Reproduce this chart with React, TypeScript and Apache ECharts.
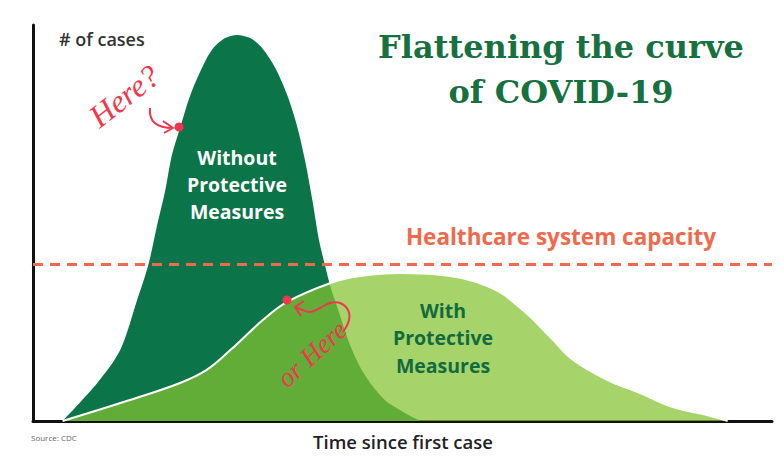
import React, { useEffect, useRef } from "react";
import * as echarts from "echarts";

// Curve without protective measures: [time, cases]
const withoutMeasures: [number, number][] = [
  [4, 0], [8.7, 9.6], [11.8, 17.9], [14.1, 30.6], [15.6, 39.4], [16.8, 49.5],
  [17.9, 58.3], [18.8, 67.2], [19.9, 74], [21.2, 81.8], [22.6, 88.1], [24.2, 93.7],
  [26, 96.7], [27.6, 97.5], [29.4, 96.7], [31, 94.2], [32.8, 89.1], [34.4, 82.3],
  [35.7, 74.7], [36.8, 65.9], [37.8, 55.8], [38.7, 45.7], [39.5, 39.4], [40.3, 33.6],
  [41.3, 28], [42.9, 19.2], [44.9, 11.6], [47.6, 5.3], [50.1, 2.3], [52.4, 0],
];

// Curve with protective measures: [time, cases]
const withMeasures: [number, number][] = [
  [4, 0], [13.1, 5.3], [19.9, 9.6], [23.5, 12.9], [26.7, 17.9], [31.1, 25.5],
  [34.4, 30.1], [40.2, 34.8], [44.2, 36.6], [49.7, 37.4], [55.1, 36.9], [61.8, 33.8],
  [66.3, 28], [70, 21.2], [73.1, 15.4], [77.7, 10.4], [82.1, 7.1], [86.6, 3.5],
  [91.2, 1.5], [94, 0],
];

const capacity = 39.5;

const titleLines = ["Flattening the curve", "of COVID-19"];
const withoutLabel = ["Without", "Protective", "Measures"];
const withLabel = ["With", "Protective", "Measures"];
const capacityLabel = "Healthcare system capacity";
const yAxisName = "# of cases";
const xAxisName = "Time since first case";
const sourceText = "Source: CDC";

const RED = "#f0374d";

export default function App() {
  const ref = useRef<HTMLDivElement>(null);
  useEffect(() => {
    if (!ref.current) return;
    const chart = echarts.init(ref.current, null, { renderer: "svg" });
    chart.setOption({
      animation: false,
      backgroundColor: "#ffffff",
      grid: { left: 33, right: 8, top: 25, bottom: 48, containLabel: false },
      xAxis: {
        type: "value",
        min: 0,
        max: 100,
        axisLine: { show: true, onZero: false, lineStyle: { color: "#111", width: 3 } },
        axisTick: { show: false },
        axisLabel: { show: false },
        splitLine: { show: false },
      },
      yAxis: {
        type: "value",
        min: 0,
        max: 100,
        axisLine: { show: true, lineStyle: { color: "#111", width: 3 } },
        axisTick: { show: false },
        axisLabel: { show: false },
        splitLine: { show: false },
      },
      series: [
        {
          type: "line",
          name: "Without Protective Measures",
          data: withoutMeasures,
          smooth: 0.3,
          symbol: "none",
          lineStyle: { width: 0 },
          areaStyle: { color: "#0b7449", opacity: 1 },
          z: 2,
        },
        {
          type: "line",
          name: "With Protective Measures",
          data: withMeasures,
          smooth: 0.4,
          symbol: "none",
          lineStyle: { width: 2, color: "#ffffff" },
          areaStyle: { color: "#83c330", opacity: 0.72 },
          z: 3,
          markLine: {
            silent: true,
            symbol: "none",
            label: { show: false },
            lineStyle: { color: "#ef6a4c", width: 3, type: [10, 7] },
            data: [{ yAxis: capacity }],
            z: 4,
          },
        },
      ],
      graphic: [
        ...titleLines.map((t, i) => ({
          type: "text",
          x: 561,
          y: 47 + i * 45,
          z: 10,
          style: {
            text: t,
            fill: "#17703f",
            font: "bold 32px 'DejaVu Serif'",
            textAlign: "center",
            textVerticalAlign: "middle",
          },
        })),
        {
          type: "text",
          x: 59,
          y: 39,
          z: 10,
          style: {
            text: yAxisName,
            fill: "#333333",
            font: "600 18px 'Open Sans'",
            textAlign: "left",
            textVerticalAlign: "middle",
          },
        },
        {
          type: "text",
          x: 403,
          y: 441,
          z: 10,
          style: {
            text: xAxisName,
            fill: "#222222",
            font: "600 18.5px 'Open Sans'",
            textAlign: "center",
            textVerticalAlign: "middle",
          },
        },
        {
          type: "text",
          x: 31,
          y: 437,
          z: 10,
          style: {
            text: sourceText,
            fill: "#666666",
            font: "8px 'Open Sans'",
            textAlign: "left",
            textVerticalAlign: "middle",
          },
        },
        {
          type: "text",
          x: 561,
          y: 236,
          z: 10,
          style: {
            text: capacityLabel,
            fill: "#ef6a4c",
            font: "bold 22.5px 'Open Sans'",
            textAlign: "center",
            textVerticalAlign: "middle",
          },
        },
        ...withoutLabel.map((t, i) => ({
          type: "text",
          x: 237,
          y: 157 + i * 27,
          z: 10,
          style: {
            text: t,
            fill: "#ffffff",
            font: "bold 19.5px 'Open Sans'",
            textAlign: "center",
            textVerticalAlign: "middle",
          },
        })),
        ...withLabel.map((t, i) => ({
          type: "text",
          x: 443,
          y: 310 + i * 27.5,
          z: 10,
          style: {
            text: t,
            fill: "#126b3e",
            font: "bold 19.5px 'Open Sans'",
            textAlign: "center",
            textVerticalAlign: "middle",
          },
        })),
        {
          type: "text",
          x: 124,
          y: 96,
          rotation: 0.66,
          z: 12,
          style: {
            text: "Here?",
            fill: RED,
            font: "italic 32px 'Liberation Serif'",
            textAlign: "center",
            textVerticalAlign: "middle",
          },
        },
        {
          type: "bezierCurve",
          z: 12,
          shape: { x1: 150, y1: 108, cpx1: 148, cpy1: 128, x2: 173, y2: 128 },
          style: { stroke: RED, lineWidth: 2, fill: "none" },
        },
        {
          type: "polyline",
          z: 12,
          shape: { points: [[163, 121], [173, 128], [164, 133]] },
          style: { stroke: RED, lineWidth: 2, fill: "none" },
        },
        { type: "circle", z: 12, shape: { cx: 179, cy: 127, r: 4.5 }, style: { fill: RED } },
        {
          type: "text",
          x: 312,
          y: 354,
          rotation: 0.74,
          z: 12,
          style: {
            text: "or Here",
            fill: RED,
            font: "italic 27px 'Liberation Serif'",
            textAlign: "center",
            textVerticalAlign: "middle",
          },
        },
        {
          type: "polyline",
          z: 12,
          shape: {
            points: [[343, 332], [349, 320], [348, 310], [340, 303], [330, 303], [320, 308], [310, 312], [300, 309], [295, 307]],
            smooth: 0.4,
          },
          style: { stroke: RED, lineWidth: 2, fill: "none" },
        },
        {
          type: "polyline",
          z: 12,
          shape: { points: [[304, 301], [295, 307], [301, 316]] },
          style: { stroke: RED, lineWidth: 2, fill: "none" },
        },
        { type: "circle", z: 12, shape: { cx: 287, cy: 300, r: 4.5 }, style: { fill: RED } },
      ],
    });
    return () => chart.dispose();
  }, []);
  return <div ref={ref} style={{ width: 780, height: 469, position: "absolute", left: 0, top: 0 }} />;
}
